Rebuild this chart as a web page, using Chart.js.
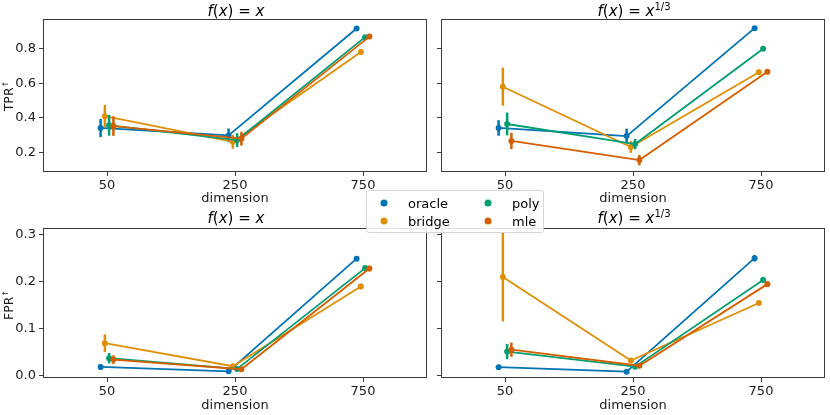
<!DOCTYPE html>
<html>
<head>
<meta charset="utf-8">
<script src="https://cdn.jsdelivr.net/npm/chart.js@4"></script>
<style>
  body { margin: 0; background: #fff; font-family: "DejaVu Sans", sans-serif; }
  #wrap { position: relative; width: 830px; height: 415px; overflow: hidden; }
  canvas { position: absolute; }
  .ttl { position: absolute; transform: translate(-50%, -50%); font-size: 15px; color: #000; white-space: nowrap; }
  .ttl i { font-style: oblique; }
  .ttl sup { font-size: 10px; vertical-align: 6px; line-height: 0; }
  .ylab { position: absolute; transform: translate(-50%, -50%) rotate(-90deg); font-size: 12.5px; color: #1a1a1a; white-space: nowrap; }
  .ylab sup { font-size: 8px; vertical-align: 5px; line-height: 0; }
  #legend { position: absolute; left: 366px; top: 190px; width: 176px; height: 41px; border: 1px solid #d6d6d6;
            border-radius: 3px; background: rgba(255,255,255,0.85); z-index: 5; font-size: 13px; }
  .lg-dot { position: absolute; width: 7px; height: 7px; border-radius: 50%; transform: translate(-50%, -50%); }
  .lg-txt { position: absolute; transform: translateY(-50%); color: #000; }
</style>
</head>
<body>
<div id="wrap">
  <canvas id="c1"></canvas>
  <canvas id="c2"></canvas>
  <canvas id="c3"></canvas>
  <canvas id="c4"></canvas>
  <div class="ttl" style="left:236px; top:11px"><i>f</i>(<i>x</i>) = <i>x</i></div>
  <div class="ttl" style="left:634px; top:11px"><i>f</i>(<i>x</i>) = <i>x</i><sup>1/3</sup></div>
  <div class="ttl" style="left:236px; top:218px"><i>f</i>(<i>x</i>) = <i>x</i></div>
  <div class="ttl" style="left:634px; top:218px"><i>f</i>(<i>x</i>) = <i>x</i><sup>1/3</sup></div>
  <div class="ylab" style="left:8px; top:96px">TPR<sup>↑</sup></div>
  <div class="ylab" style="left:8px; top:305px">FPR<sup>↑</sup></div>
  <div id="legend"></div>
</div>
<script>
// dimension categories and methods
const categories = ['50', '250', '750'];
const methods = ['oracle', 'bridge', 'poly', 'mle'];
const colors = ['#0173b2', '#de8f05', '#029e73', '#d55e00'];

// rows: oracle, bridge, poly, mle ; columns: 50, 250, 750
const tprLinMean = [
    [0.341, 0.298, 0.917],
    [0.409, 0.261, 0.781],
    [0.356, 0.271, 0.867],
    [0.352, 0.279, 0.870]
];
const tprLinErr = [
    [0.053, 0.040, 0.010],
    [0.065, 0.040, 0.015],
    [0.060, 0.040, 0.010],
    [0.057, 0.040, 0.010]
];
const tprCubMean = [
    [0.341, 0.294, 0.919],
    [0.580, 0.231, 0.664],
    [0.364, 0.248, 0.800],
    [0.266, 0.155, 0.666]
];
const tprCubErr = [
    [0.045, 0.043, 0.008],
    [0.110, 0.034, 0.015],
    [0.066, 0.030, 0.010],
    [0.047, 0.030, 0.015]
];
const fprLinMean = [
    [0.0185, 0.0092, 0.248],
    [0.0687, 0.020, 0.189],
    [0.037, 0.0142, 0.228],
    [0.034, 0.0136, 0.227]
];
const fprLinErr = [
    [0.006, 0.002, 0.005],
    [0.019, 0.003, 0.006],
    [0.011, 0.003, 0.005],
    [0.009, 0.003, 0.006]
];
const fprCubMean = [
    [0.018, 0.0085, 0.249],
    [0.209, 0.032, 0.154],
    [0.051, 0.019, 0.203],
    [0.055, 0.021, 0.194]
];
const fprCubErr = [
    [0.005, 0.002, 0.007],
    [0.094, 0.003, 0.004],
    [0.016, 0.003, 0.006],
    [0.015, 0.003, 0.006]
];

const tprTicks = [0.2, 0.4, 0.6, 0.8];
const fprTicks = [0.0, 0.1, 0.2, 0.3];

// seaborn-like dodge of the hue levels
const dodge = [-0.05, -0.0167, 0.0167, 0.05];

const textColor = '#1a1a1a';
const frameColor = '#3a3a3a';

const errorBars = {
    id: 'errorBars',
    beforeDatasetDraw(chart, args) {
        const ds = chart.data.datasets[args.index];
        const y = chart.scales.y;
        const ctx = chart.ctx;
        ctx.save();
        ctx.strokeStyle = ds.borderColor;
        ctx.lineWidth = 2.5;
        args.meta.data.forEach((pt, j) => {
            const m = ds.data[j].y, e = ds.errors[j];
            ctx.beginPath();
            ctx.moveTo(pt.x, y.getPixelForValue(m - e));
            ctx.lineTo(pt.x, y.getPixelForValue(m + e));
            ctx.stroke();
        });
        ctx.restore();
    }
};

const frame = {
    id: 'frame',
    afterDraw(chart) {
        const a = chart.chartArea, ctx = chart.ctx;
        ctx.save();
        ctx.strokeStyle = frameColor;
        ctx.lineWidth = 1;
        ctx.strokeRect(Math.round(a.left) + 0.5, Math.round(a.top) + 0.5,
                       Math.round(a.right - a.left) - 1, Math.round(a.bottom - a.top) - 1);
        ctx.restore();
    }
};

function makePanel(id, box, means, errs, yMin, yMax, yTicks, showY, padTop) {
    const el = document.getElementById(id);
    el.style.left = box.left + 'px';
    el.style.top = box.top + 'px';
    el.width = box.w;
    el.height = box.h;
    el.style.width = box.w + 'px';
    el.style.height = box.h + 'px';

    const datasets = methods.map((name, i) => ({
        label: name,
        data: means[i].map((v, j) => ({ x: j + dodge[i], y: v })),
        errors: errs[i],
        borderColor: colors[i],
        backgroundColor: colors[i],
        borderWidth: 1.8,
        pointRadius: 3,
        pointBorderWidth: 0,
        showLine: true,
        tension: 0,
        order: 3 - i
    }));

    new Chart(el, {
        type: 'scatter',
        data: { datasets },
        plugins: [errorBars, frame],
        options: {
            responsive: false,
            animation: false,
            events: [],
            layout: { padding: { top: padTop, right: 1, left: 0, bottom: 0 } },
            plugins: { legend: { display: false }, tooltip: { enabled: false } },
            scales: {
                x: {
                    type: 'linear',
                    min: -0.5, max: 2.5,
                    afterBuildTicks: s => { s.ticks = categories.map((c, j) => ({ value: j })); },
                    afterFit: s => { s.height = box.h - padTop - box.plotH; },
                    ticks: {
                        callback: v => categories[v],
                        color: textColor,
                        font: { family: 'DejaVu Sans', size: 13 },
                        padding: 2,
                        maxRotation: 0
                    },
                    grid: { drawOnChartArea: false, drawTicks: true, tickLength: 4, color: frameColor },
                    border: { display: false },
                    title: {
                        display: true, text: 'dimension', color: textColor,
                        font: { family: 'DejaVu Sans', size: 13 },
                        padding: { top: 0, bottom: 0 }
                    }
                },
                y: {
                    min: yMin, max: yMax,
                    afterBuildTicks: s => { s.ticks = yTicks.map(v => ({ value: v })); },
                    afterFit: s => { s.width = box.yW; },
                    ticks: {
                        callback: v => v.toFixed(1),
                        color: showY ? textColor : 'rgba(0,0,0,0)',
                        font: { family: 'DejaVu Sans', size: 13 },
                        padding: 3
                    },
                    grid: { drawOnChartArea: false, drawTicks: true, tickLength: 4, color: frameColor },
                    border: { display: false }
                }
            }
        }
    });
}

makePanel('c1', { left: 0, top: 0, w: 431, h: 206, plotH: 153, yW: 43 },
          tprLinMean, tprLinErr, 0.086, 0.972, tprTicks, true, 19);
makePanel('c2', { left: 431, top: 0, w: 398, h: 206, plotH: 153, yW: 10 },
          tprCubMean, tprCubErr, 0.086, 0.972, tprTicks, false, 19);
makePanel('c3', { left: 0, top: 205, w: 431, h: 208, plotH: 150, yW: 43 },
          fprLinMean, fprLinErr, -0.005, 0.313, fprTicks, true, 23);
makePanel('c4', { left: 431, top: 205, w: 398, h: 208, plotH: 150, yW: 10 },
          fprCubMean, fprCubErr, -0.005, 0.313, fprTicks, false, 23);

// legend, two columns
const legend = document.getElementById('legend');
const legendPos = [[17, 11.5], [17, 30], [121, 11.5], [121, 30]];
methods.forEach((name, i) => {
    const [lx, ly] = legendPos[i];
    const dot = document.createElement('div');
    dot.className = 'lg-dot';
    dot.style.left = lx + 'px';
    dot.style.top = ly + 'px';
    dot.style.background = colors[i];
    legend.appendChild(dot);
    const txt = document.createElement('div');
    txt.className = 'lg-txt';
    txt.style.left = (lx + 24) + 'px';
    txt.style.top = ly + 'px';
    txt.textContent = name;
    legend.appendChild(txt);
});
</script>
</body>
</html>
